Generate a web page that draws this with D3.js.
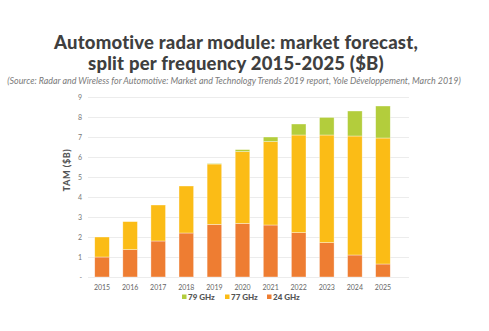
<!DOCTYPE html>
<html>
<head>
<meta charset="utf-8">
<script src="https://cdn.jsdelivr.net/npm/d3@7"></script>
<style>
  body { margin: 0; background: #fff; }
  svg { display: block; font-family: Lato, "Open Sans", sans-serif; }
</style>
</head>
<body>
<svg id="chart" width="489" height="331"></svg>
<script>
// ========== Data ==========
const years = ['2015', '2016', '2017', '2018', '2019', '2020', '2021', '2022', '2023', '2024', '2025'];
const ghz24 = [1.0, 1.37, 1.8, 2.2, 2.63, 2.68, 2.6, 2.22, 1.72, 1.1, 0.65];
const ghz77 = [1.0, 1.4, 1.8, 2.35, 3.02, 3.59, 4.17, 4.88, 5.38, 5.95, 6.3];
const ghz79 = [0, 0, 0, 0, 0.03, 0.1, 0.23, 0.55, 0.88, 1.25, 1.6];
const yTicks = [0, 1, 2, 3, 4, 5, 6, 7, 8, 9];
const legendItems = ['79 GHz', '77 GHz', '24 GHz'];

// ========== Config ==========
const colors = { '24 GHz': '#ee7d32', '77 GHz': '#fbbc16', '79 GHz': '#b3cd3c' };
const plot = { left: 88, right: 409, top: 97, bottom: 277, barsRight: 397 };

const svg = d3.select('#chart');

// ========== Titles ==========
svg.append('text')
  .attr('x', 236).attr('y', 49)
  .attr('text-anchor', 'middle')
  .attr('font-size', 18.5).attr('font-weight', 900)
  .attr('letter-spacing', 0.2)
  .attr('fill', '#3f3f3f')
  .text('Automotive radar module: market forecast,');

svg.append('text')
  .attr('x', 236).attr('y', 70)
  .attr('text-anchor', 'middle')
  .attr('font-size', 18.5).attr('font-weight', 900)
  .attr('letter-spacing', 0.2)
  .attr('fill', '#3f3f3f')
  .text('split per frequency 2015-2025 ($B)');

svg.append('text')
  .attr('x', 234).attr('y', 84)
  .attr('text-anchor', 'middle')
  .attr('font-size', 8.9).attr('font-style', 'italic')
  .attr('fill', '#7a7a7a')
  .text('(Source: Radar and Wireless for Automotive: Market and Technology Trends 2019 report, Yole Développement, March 2019)');

// ========== Scales ==========
const x = d3.scaleBand()
  .domain(years)
  .range([plot.left, plot.barsRight])
  .paddingInner(0.48)
  .paddingOuter(0.24);

const y = d3.scaleLinear()
  .domain([0, 9])
  .range([plot.bottom, plot.top]);

// ========== Grid + Y axis ==========
const yAxis = svg.append('g')
  .attr('transform', `translate(${plot.left},0)`)
  .call(d3.axisLeft(y)
    .tickValues(yTicks)
    .tickSize(-(plot.right - plot.left))
    .tickPadding(6)
    .tickFormat(d => d === 0 ? '-' : d));

yAxis.select('.domain').remove();
yAxis.selectAll('line').attr('stroke', '#ececec').attr('stroke-width', 1);
yAxis.selectAll('text')
  .attr('font-size', 7).attr('fill', '#777')
  .attr('font-family', 'Lato, sans-serif');

svg.append('text')
  .attr('transform', `translate(70,170) rotate(-90)`)
  .attr('text-anchor', 'middle')
  .attr('font-size', 9).attr('font-weight', 900)
  .attr('letter-spacing', 0.6)
  .attr('fill', '#555')
  .text('TAM ($B)');

// ========== Stacked bars ==========
const rows = years.map((yr, i) => ({
  year: yr, '24 GHz': ghz24[i], '77 GHz': ghz77[i], '79 GHz': ghz79[i]
}));
const stack = d3.stack().keys(['24 GHz', '77 GHz', '79 GHz'])(rows);

svg.append('g')
  .selectAll('g')
  .data(stack)
  .join('g')
    .attr('fill', d => colors[d.key])
  .selectAll('rect')
  .data(d => d.filter(s => s[1] - s[0] > 0))
  .join('rect')
    .attr('x', d => x(d.data.year))
    .attr('width', x.bandwidth())
    .attr('y', d => y(d[1]))
    .attr('height', d => y(d[0]) - y(d[1]))
    .attr('stroke', 'rgba(255,255,255,0.6)')
    .attr('stroke-width', 0.6);

// ========== X axis labels ==========
const xAxis = svg.append('g')
  .attr('transform', `translate(0,${plot.bottom})`)
  .call(d3.axisBottom(x).tickSize(0).tickPadding(8));
xAxis.select('.domain').remove();
xAxis.selectAll('text')
  .attr('font-size', 7).attr('fill', '#666')
  .attr('font-family', 'Lato, sans-serif');

// ========== Legend ==========
const legendX = [182, 225, 267];
const legend = svg.append('g')
  .selectAll('g')
  .data(legendItems)
  .join('g')
    .attr('transform', (d, i) => `translate(${legendX[i]},297)`);

legend.append('rect')
  .attr('x', 0).attr('y', -2.5)
  .attr('width', 4.5).attr('height', 4.5)
  .attr('fill', d => colors[d]);

legend.append('text')
  .attr('x', 6).attr('y', 2.8)
  .attr('font-size', 8).attr('font-weight', 900)
  .attr('fill', '#555')
  .text(d => d);
</script>
</body>
</html>
